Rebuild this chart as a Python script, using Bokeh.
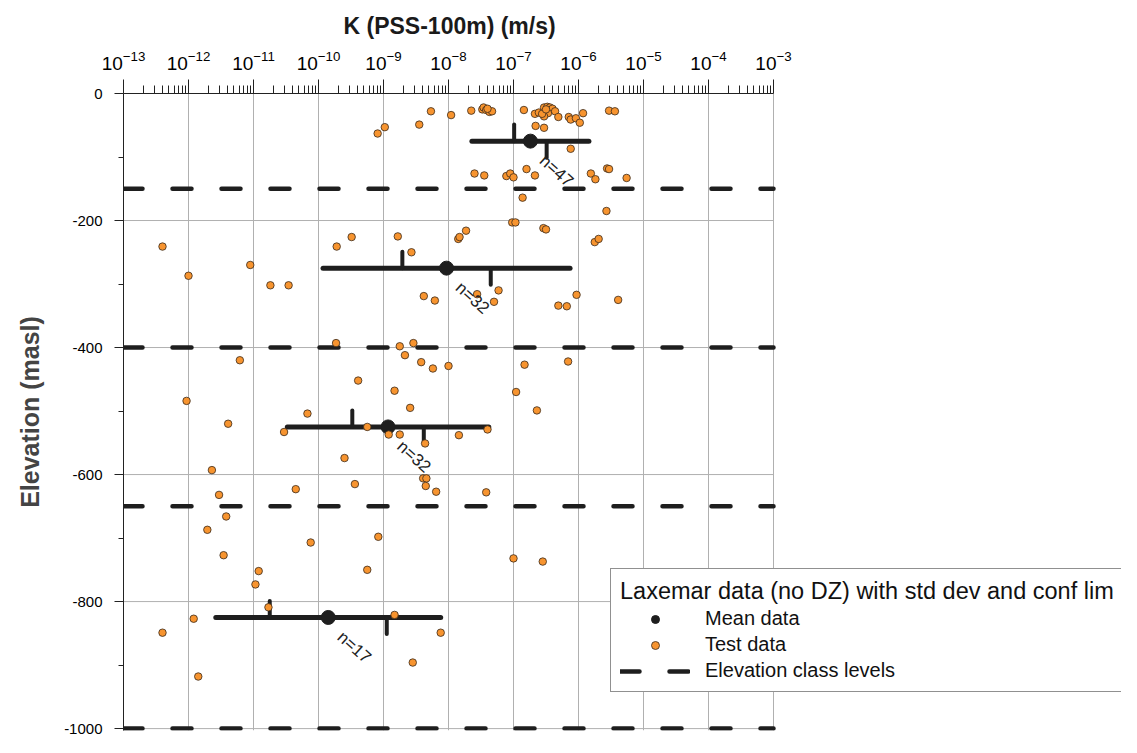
from bokeh.plotting import figure
from bokeh.models import Range1d, FixedTicker, Legend, LegendItem, ColumnDataSource
from bokeh.embed import file_html
from bokeh.resources import INLINE
from bokeh.core.properties import value

# ---------------- data ----------------
# elevation class levels (masl)
class_levels = [-150, -400, -650, -1000]
# class mid elevations, means (log10 K), std dev (decades), conf lim (decades), counts
class_mid = [-75, -275, -525, -825]
mean_log10K = [-6.74, -8.03, -8.93, -9.85]
std_log10K = [0.90, 1.90, 1.55, 1.73]
conf_log10K = [0.25, 0.68, 0.55, 0.90]
n_counts = [47, 32, 32, 17]

# test data: log10 K (m/s) and elevation (masl)
test_log10K = [
    # class 0 to -150
    -9.09, -8.98, -8.45, -8.27, -7.96, -7.65, -7.48, -7.46, -7.42, -7.37, -7.33,
    -6.84, -6.67, -6.61, -6.53, -6.48, -6.44, -6.40, -6.36, -6.47, -6.53, -6.56, -6.31,
    -6.15, -6.12, -6.04, -5.98, -5.93, -5.53, -5.44, -6.66, -6.53, -6.12,
    -7.60, -7.45, -7.11, -7.05, -7.00, -6.80, -6.67, -5.81, -5.74, -5.56, -5.53, -5.26,
    -6.50, -7.40,
    # class -150 to -400
    -12.40, -12.00, -11.05, -10.74, -10.46, -9.72, -9.49, -8.78, -8.57, -8.38, -8.21,
    -7.85, -7.83, -7.73, -7.56, -7.30, -7.23, -7.02, -6.97, -6.86, -6.54, -6.50,
    -6.31, -6.18, -6.03, -5.75, -5.69, -5.57, -5.39, -8.75, -8.54, -9.73,
    # class -400 to -650
    -11.21, -9.39, -12.03, -10.17, -11.39, -10.53, -9.25, -9.60, -11.64, -9.44, -10.35, -11.53,
    -8.67, -8.42, -8.24, -8.00, -6.83, -6.16, -8.83, -6.96, -8.59, -6.64, -8.92, -8.75,
    -8.36, -7.84, -7.40, -8.39, -8.34, -8.35, -8.19, -7.42,
    # class -650 to -1000
    -12.40, -11.85, -11.92, -8.55, -8.12, -8.83, -7.00, -6.55, -11.71, -11.46,
    -10.92, -10.97, -10.77, -10.12, -9.25, -9.08, -11.42,
]
test_elev = [
    -63, -53, -49, -28, -34, -27, -25, -22, -26, -29, -28,
    -26, -32, -30, -22, -21, -22, -24, -28, -31, -36, -32, -37,
    -37, -41, -39, -46, -31, -27, -28, -51, -54, -87,
    -126, -129, -130, -126, -132, -119, -129, -126, -135, -118, -119, -133,
    -25, -24,
    -241, -287, -270, -302, -302, -241, -226, -225, -250, -319, -326,
    -229, -226, -216, -316, -328, -310, -203, -203, -164, -212, -214,
    -334, -335, -317, -234, -229, -185, -325, -398, -393, -393,
    -420, -452, -484, -504, -520, -533, -525, -574, -593, -615, -623, -632,
    -412, -423, -433, -429, -427, -422, -468, -470, -495, -499, -537, -537,
    -551, -538, -529, -606, -606, -618, -627, -628,
    -849, -918, -827, -896, -849, -821, -732, -737, -687, -727,
    -752, -773, -809, -707, -750, -698, -666,
]

x_decades = list(range(-13, -2))          # tick exponents 10^-13 .. 10^-3
y_major = [0, -200, -400, -600, -800, -1000]
y_minor = [-100, -300, -500, -700, -900]
x_title = "K (PSS-100m) (m/s)"
y_title = "Elevation (masl)"

# ---------------- layout / styles ----------------
FONT = "Liberation Sans"
DARK = "#1e1e1e"
ORANGE = "#F7942F"
GRID = "#b0b0b0"
TICK_LEN = 26          # length of confidence-limit ticks (masl units)
W, H = 1121, 737
LEFT, TOP, BOTTOM = 123, 93, 7
DECADE_PX = 65         # pixels per decade on the K axis

X_MIN, X_MAX = 10.0 ** x_decades[0], 10.0 ** x_decades[-1]
frame_w = W - LEFT
X_RIGHT = 10.0 ** (x_decades[0] + frame_w / DECADE_PX)   # frame extends under the legend

p = figure(
    width=W, height=H,
    x_axis_type="log", x_axis_location="above",
    x_range=Range1d(X_MIN, X_RIGHT), y_range=Range1d(-1003, 0),
    output_backend="svg", toolbar_location=None,
    min_border_left=LEFT, min_border_right=0, min_border_top=TOP, min_border_bottom=BOTTOM,
)
p.outline_line_color = None
p.background_fill_color = "white"

# top title acts as the K-axis label, centred over the bounded axis
p.title.text = x_title
p.title.align = "left"
p.title.offset = 220
p.title.text_font = FONT
p.title.text_font_style = "bold"
p.title.text_font_size = "23px"
p.title.text_color = "#1a1a1a"
p.title.standoff = 18

# grids
p.xaxis.ticker = FixedTicker(ticks=[10.0 ** e for e in x_decades],
                             minor_ticks=[m * 10.0 ** e for e in x_decades[:-1] for m in range(2, 10)])
p.xgrid.ticker = FixedTicker(ticks=[10.0 ** e for e in x_decades])
p.xgrid.grid_line_color = GRID
p.ygrid.visible = False
hg = y_major[1:]
p.segment(x0=[X_MIN] * len(hg), x1=[X_MAX] * len(hg), y0=hg, y1=hg,
          line_color=GRID, line_width=1, level="underlay")

# x axis (top)
xa = p.xaxis[0]
xa.bounds = (X_MIN, X_MAX)
xa.major_label_text_font = FONT
xa.major_label_text_font_size = "19px"
xa.major_label_text_color = "black"
xa.major_label_standoff = 10
xa.major_tick_out = 14
xa.major_tick_in = 0
xa.minor_tick_out = 8
xa.minor_tick_in = 0
xa.axis_line_color = "#222"
xa.major_tick_line_color = "#222"
xa.minor_tick_line_color = "#222"

# y axis (left)
ya = p.yaxis[0]
ya.ticker = FixedTicker(ticks=y_major, minor_ticks=y_minor)
ya.major_label_overrides = {v: str(v) for v in y_major}
ya.axis_label = y_title
ya.axis_label_text_font = FONT
ya.axis_label_text_font_style = "bold"
ya.axis_label_text_font_size = "25px"
ya.axis_label_standoff = 17
ya.major_label_text_font = FONT
ya.major_label_text_font_size = "15px"
ya.major_label_text_color = "black"
ya.major_label_standoff = 12
ya.major_tick_out = 9
ya.major_tick_in = 0
ya.minor_tick_out = 5
ya.minor_tick_in = 0
ya.axis_line_color = "#222"
ya.major_tick_line_color = "#222"
ya.minor_tick_line_color = "#222"

# elevation class levels (dashed)
lev_src = ColumnDataSource(dict(x0=[X_MIN] * len(class_levels), x1=[X_MAX] * len(class_levels),
                                y=class_levels))
r_lev = p.segment(x0="x0", x1="x1", y0="y", y1="y", source=lev_src,
                  line_color=DARK, line_width=4.5, line_dash="19 30", line_cap="round")

# std dev bars
bar_src = ColumnDataSource(dict(
    x0=[10.0 ** (m - s) for m, s in zip(mean_log10K, std_log10K)],
    x1=[10.0 ** (m + s) for m, s in zip(mean_log10K, std_log10K)],
    y=class_mid))
p.segment(x0="x0", x1="x1", y0="y", y1="y", source=bar_src,
          line_color=DARK, line_width=5, line_cap="round")

# confidence limit ticks
lo = [10.0 ** (m - c) for m, c in zip(mean_log10K, conf_log10K)]
hi = [10.0 ** (m + c) for m, c in zip(mean_log10K, conf_log10K)]
p.segment(x0=lo, x1=lo, y0=class_mid, y1=[y + TICK_LEN for y in class_mid],
          line_color=DARK, line_width=4, line_cap="round")
p.segment(x0=hi, x1=hi, y0=class_mid, y1=[y - TICK_LEN for y in class_mid],
          line_color=DARK, line_width=4, line_cap="round")

# means
r_mean = p.scatter(x=[10.0 ** m for m in mean_log10K], y=class_mid, size=14,
                   fill_color=DARK, line_color=DARK)

# test data
r_test = p.scatter(x=[10.0 ** v for v in test_log10K], y=test_elev, size=7.5,
                   fill_color=ORANGE, line_color="#3a2a1a", line_width=0.8)

# n labels
p.text(x=[10.0 ** m for m in mean_log10K], y=class_mid,
       text=[f"n={n}" for n in n_counts],
       x_offset=18, y_offset=10, angle=-0.73,
       text_align="left", text_baseline="top",
       text_font=value(FONT), text_font_size="17px", text_color="#222")

legend = Legend(
    items=[LegendItem(label="Mean data", renderers=[r_mean]),
           LegendItem(label="Test data", renderers=[r_test]),
           LegendItem(label="Elevation class levels", renderers=[r_lev])],
    location=(610 - LEFT, 38),
    title="Laxemar data (no DZ) with std dev and conf lim",
    title_text_font=FONT, title_text_font_size="23.5px", title_text_font_style="normal",
    title_text_color="#111", title_standoff=2,
    label_text_font=FONT, label_text_font_size="20px", label_text_color="#111",
    glyph_width=70, glyph_height=20, label_standoff=15,
    padding=9, spacing=3, margin=0,
    border_line_color="#222", border_line_width=1,
    background_fill_color="white", background_fill_alpha=1.0,
)
p.add_layout(legend, "center")

open("out.html", "w").write(file_html(p, INLINE))
